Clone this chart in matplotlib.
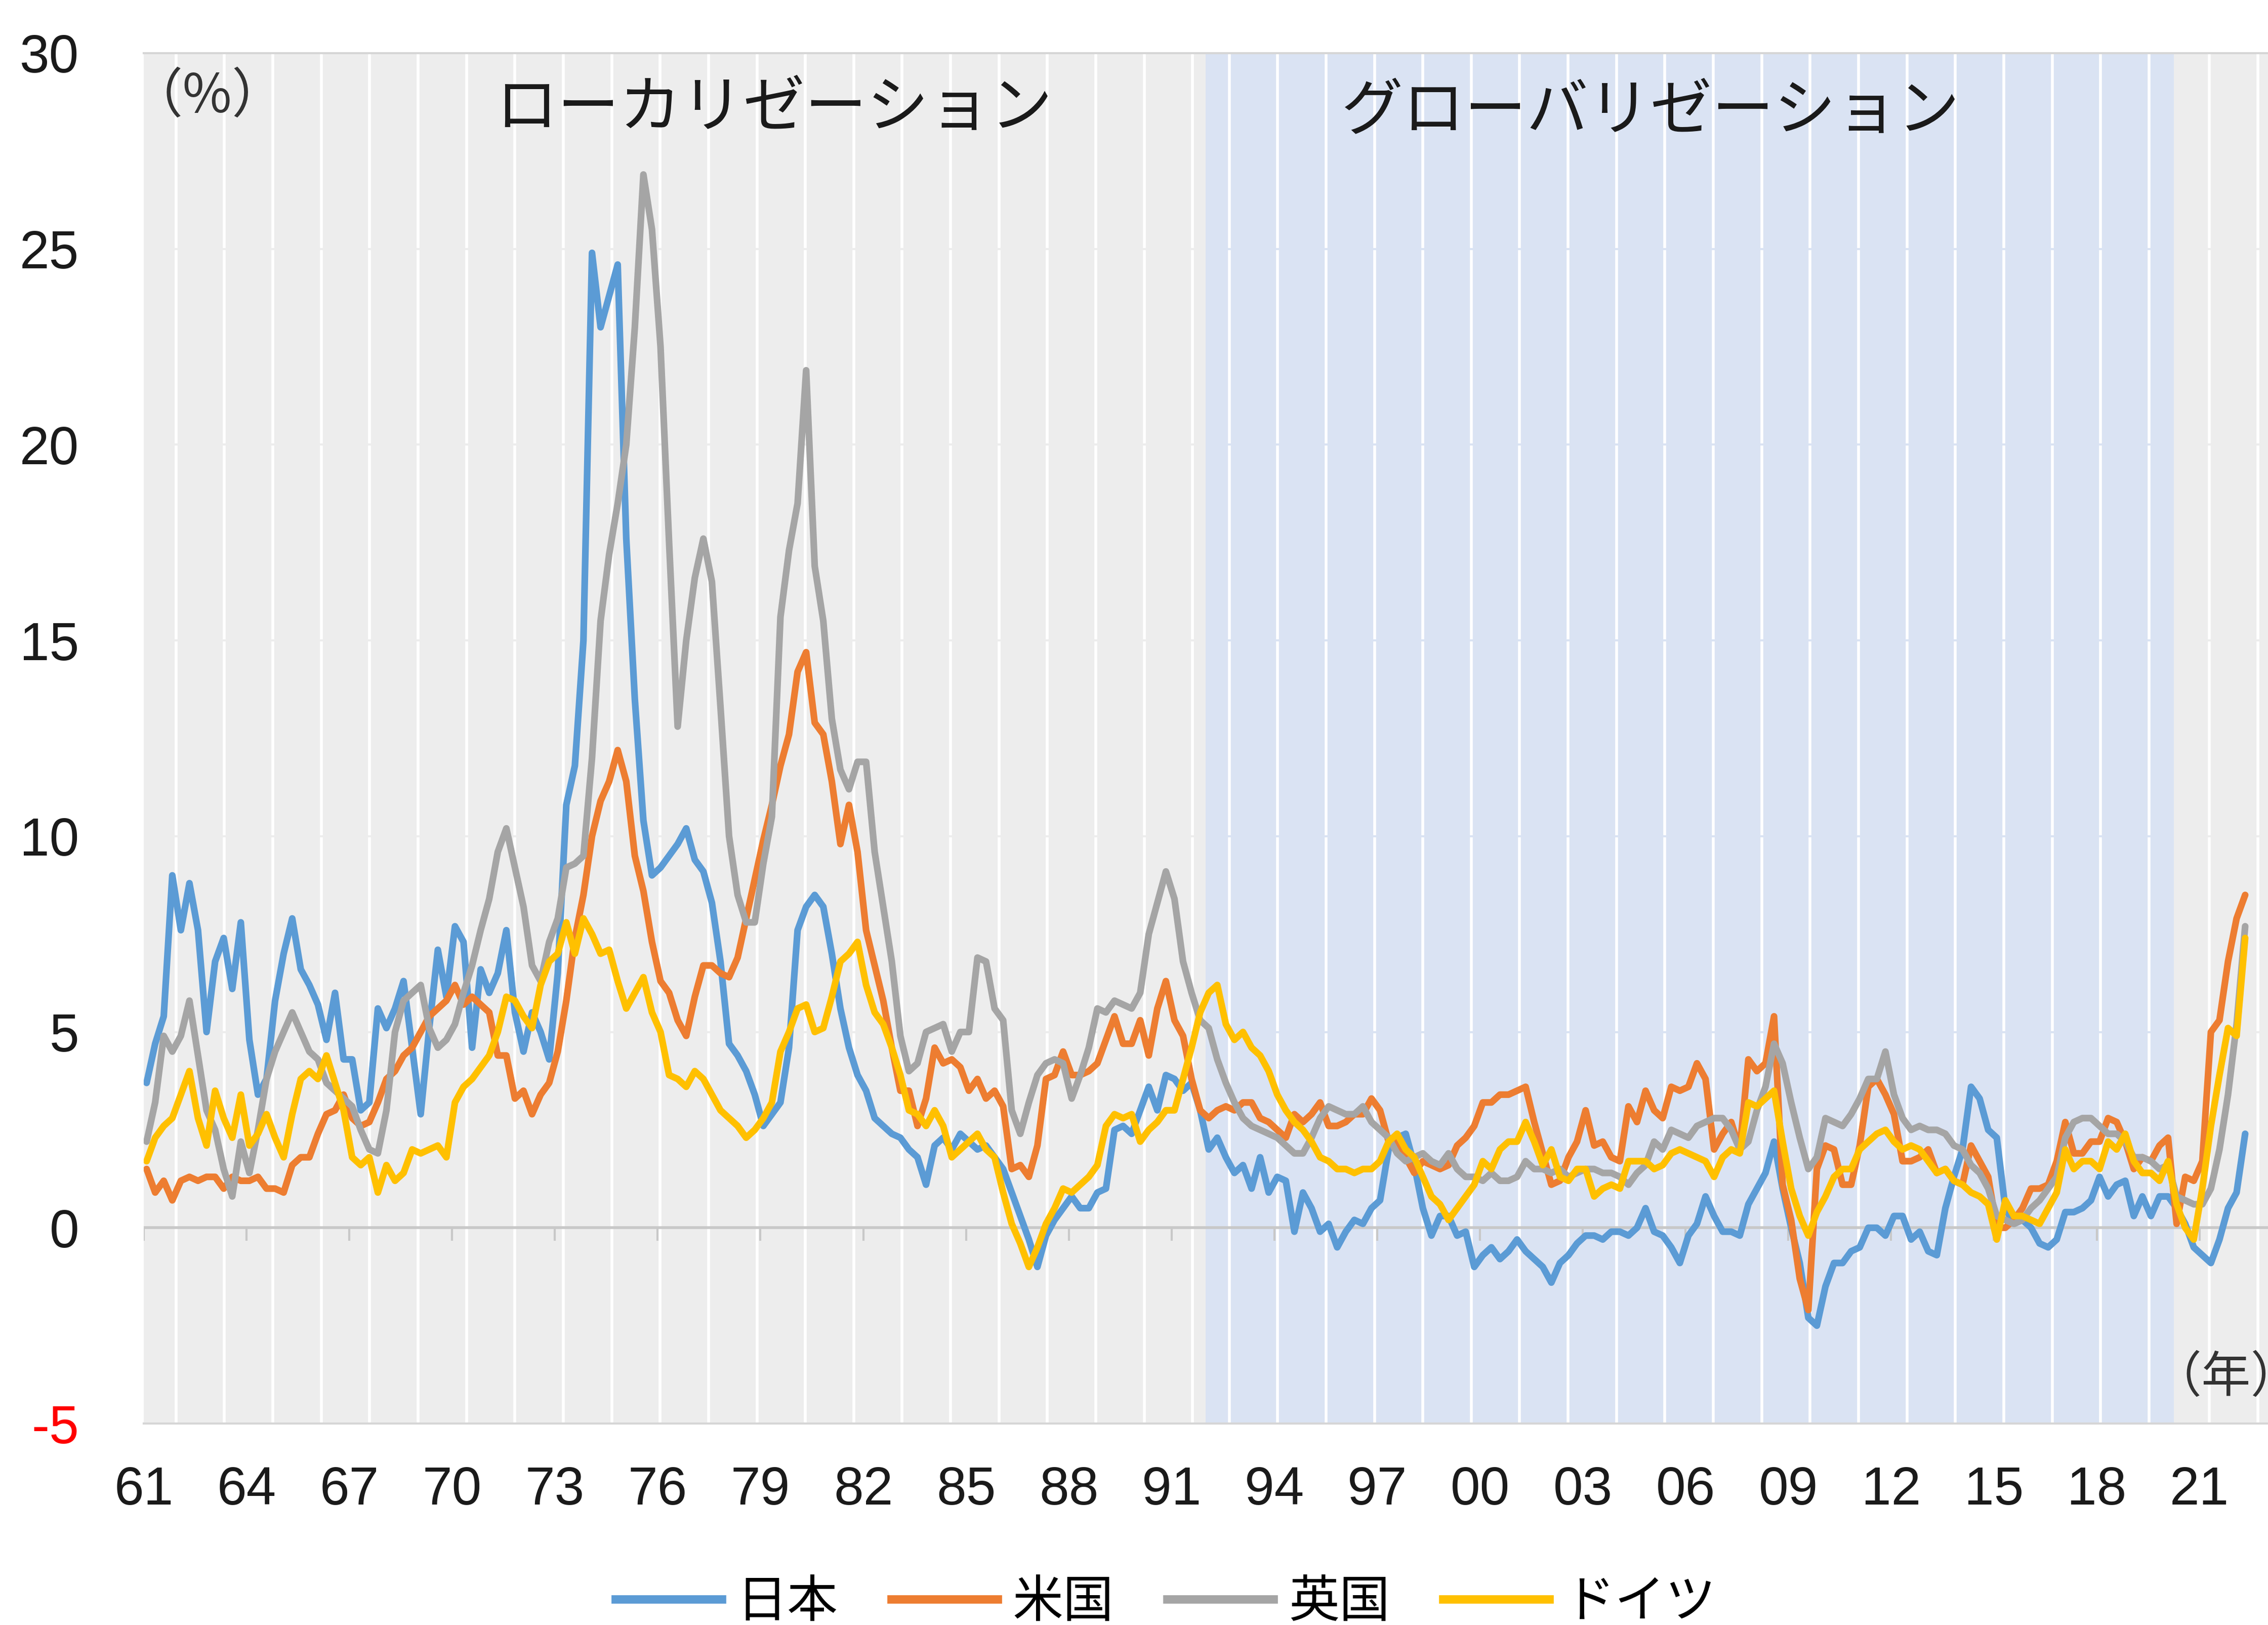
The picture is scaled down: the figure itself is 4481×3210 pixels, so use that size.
import numpy as np
import pandas as pd
import matplotlib
matplotlib.use("Agg")
import matplotlib.pyplot as plt
from matplotlib.lines import Line2D

# ---------------- data (quarterly readings, Feb/May/Aug/Nov, 1961 - 2022) ----------------
series_names = ["日本", "米国", "英国", "ドイツ"]

japan = [
    3.7, 4.7, 5.4, 9.0,   7.6, 8.8, 7.6, 5.0,   6.8, 7.4, 6.1, 7.8,   4.8, 3.4, 3.8, 5.8,   # 61-64
    7.0, 7.9, 6.6, 6.2,   5.7, 4.8, 6.0, 4.3,   4.3, 3.0, 3.2, 5.6,   5.1, 5.6, 6.3, 4.6,   # 65-68
    2.9, 5.1, 7.1, 5.9,   7.7, 7.3, 4.6, 6.6,   6.0, 6.5, 7.6, 5.5,   4.5, 5.5, 5.0, 4.3,   # 69-72
    6.5, 10.8, 11.8, 15.0, 24.9, 23.0, 23.8, 24.6, 17.6, 13.5, 10.4, 9.0, 9.2, 9.5, 9.8, 10.2,  # 73-76
    9.4, 9.1, 8.3, 6.8,   4.7, 4.4, 4.0, 3.4,   2.6, 2.9, 3.2, 4.6,   7.6, 8.2, 8.5, 8.2,   # 77-80
    7.0, 5.6, 4.6, 3.9,   3.5, 2.8, 2.6, 2.4,   2.3, 2.0, 1.8, 1.1,   2.1, 2.3, 2.0, 2.4,   # 81-84
    2.2, 2.0, 2.1, 1.8,   1.5, 0.9, 0.3, -0.3,  -1.0, -0.2, 0.2, 0.5,  0.8, 0.5, 0.5, 0.9,  # 85-88
    1.0, 2.5, 2.6, 2.4,   3.0, 3.6, 3.0, 3.9,   3.8, 3.5, 3.7, 3.0,   2.0, 2.3, 1.8, 1.4,   # 89-92
    1.6, 1.0, 1.8, 0.9,   1.3, 1.2, -0.1, 0.9,  0.5, -0.1, 0.1, -0.5,  -0.1, 0.2, 0.1, 0.5,  # 93-96
    0.7, 2.0, 2.3, 2.4,   1.6, 0.5, -0.2, 0.3,  0.3, -0.2, -0.1, -1.0, -0.7, -0.5, -0.8, -0.6,  # 97-00
    -0.3, -0.6, -0.8, -1.0, -1.4, -0.9, -0.7, -0.4, -0.2, -0.2, -0.3, -0.1, -0.1, -0.2, 0.0, 0.5,  # 01-04
    -0.1, -0.2, -0.5, -0.9, -0.2, 0.1, 0.8, 0.3, -0.1, -0.1, -0.2, 0.6,  1.0, 1.4, 2.2, 1.0,  # 05-08
    0.0, -0.9, -2.3, -2.5, -1.5, -0.9, -0.9, -0.6, -0.5, 0.0, 0.0, -0.2,  0.3, 0.3, -0.3, -0.1,  # 09-12
    -0.6, -0.7, 0.5, 1.3,  2.0, 3.6, 3.3, 2.5,   2.3, 0.5, 0.1, 0.2,   0.0, -0.4, -0.5, -0.3,  # 13-16
    0.4, 0.4, 0.5, 0.7,   1.3, 0.8, 1.1, 1.2,   0.3, 0.8, 0.3, 0.8,   0.8, 0.5, 0.1, -0.5,  # 17-20
    -0.7, -0.9, -0.3, 0.5, 0.9, 2.4,                                                           # 21-22
]

us = [
    1.5, 0.9, 1.2, 0.7,   1.2, 1.3, 1.2, 1.3,   1.3, 1.0, 1.3, 1.2,   1.2, 1.3, 1.0, 1.0,
    0.9, 1.6, 1.8, 1.8,   2.4, 2.9, 3.0, 3.4,   2.8, 2.6, 2.7, 3.2,   3.8, 4.0, 4.4, 4.6,
    5.0, 5.4, 5.6, 5.8,   6.2, 5.7, 5.9, 5.7,   5.5, 4.4, 4.4, 3.3,   3.5, 2.9, 3.4, 3.7,
    4.5, 5.8, 7.4, 8.5,   10.0, 10.9, 11.4, 12.2, 11.4, 9.5, 8.6, 7.3,  6.3, 6.0, 5.3, 4.9,
    5.9, 6.7, 6.7, 6.5,   6.4, 6.9, 7.9, 8.9,   9.9, 10.8, 11.8, 12.6, 14.2, 14.7, 12.9, 12.6,
    11.4, 9.8, 10.8, 9.6, 7.6, 6.7, 5.8, 4.6,   3.5, 3.5, 2.6, 3.3,   4.6, 4.2, 4.3, 4.1,
    3.5, 3.8, 3.3, 3.5,   3.1, 1.5, 1.6, 1.3,   2.1, 3.8, 3.9, 4.5,   3.9, 3.9, 4.0, 4.2,
    4.8, 5.4, 4.7, 4.7,   5.3, 4.4, 5.6, 6.3,   5.3, 4.9, 3.8, 3.0,   2.8, 3.0, 3.1, 3.0,
    3.2, 3.2, 2.8, 2.7,   2.5, 2.3, 2.9, 2.7,   2.9, 3.2, 2.6, 2.6,   2.7, 2.9, 2.9, 3.3,
    3.0, 2.2, 2.2, 1.8,   1.4, 1.7, 1.6, 1.5,   1.6, 2.1, 2.3, 2.6,   3.2, 3.2, 3.4, 3.4,
    3.5, 3.6, 2.7, 1.9,   1.1, 1.2, 1.8, 2.2,   3.0, 2.1, 2.2, 1.8,   1.7, 3.1, 2.7, 3.5,
    3.0, 2.8, 3.6, 3.5,   3.6, 4.2, 3.8, 2.0,   2.4, 2.7, 2.0, 4.3,   4.0, 4.2, 5.4, 1.1,
    0.2, -1.3, -2.1, 1.5, 2.1, 2.0, 1.1, 1.1,   2.1, 3.6, 3.8, 3.4,   2.9, 1.7, 1.7, 1.8,
    2.0, 1.4, 1.5, 1.2,   1.1, 2.1, 1.7, 1.3,   0.0, 0.0, 0.2, 0.5,   1.0, 1.0, 1.1, 1.7,
    2.7, 1.9, 1.9, 2.2,   2.2, 2.8, 2.7, 2.2,   1.5, 1.8, 1.7, 2.1,   2.3, 0.1, 1.3, 1.2,
    1.7, 5.0, 5.3, 6.8,   7.9, 8.5,
]

uk = [
    2.2, 3.2, 4.9, 4.5,   4.9, 5.8, 4.4, 3.0,   2.5, 1.5, 0.8, 2.2,   1.4, 2.5, 3.8, 4.5,
    5.0, 5.5, 5.0, 4.5,   4.3, 3.7, 3.5, 3.3,   3.1, 2.5, 2.0, 1.9,   3.0, 5.0, 5.8, 6.0,
    6.2, 5.1, 4.6, 4.8,   5.2, 6.0, 6.7, 7.6,   8.4, 9.6, 10.2, 9.2,  8.2, 6.7, 6.3, 7.3,
    7.9, 9.2, 9.3, 9.5,   12.0, 15.5, 17.2, 18.5, 20.0, 23.0, 26.9, 25.5, 22.5, 17.5, 12.8, 15.0,
    16.6, 17.6, 16.5, 13.3, 10.0, 8.5, 7.8, 7.8, 9.3, 10.5, 15.6, 17.3, 18.5, 21.9, 16.9, 15.5,
    13.0, 11.7, 11.2, 11.9, 11.9, 9.6, 8.2, 6.8, 4.9, 4.0, 4.2, 5.0,   5.1, 5.2, 4.5, 5.0,
    5.0, 6.9, 6.8, 5.6,   5.3, 3.0, 2.4, 3.2,   3.9, 4.2, 4.3, 4.2,   3.3, 3.9, 4.6, 5.6,
    5.5, 5.8, 5.7, 5.6,   6.0, 7.5, 8.3, 9.1,   8.4, 6.8, 6.0, 5.3,   5.1, 4.3, 3.7, 3.2,
    2.8, 2.6, 2.5, 2.4,   2.3, 2.1, 1.9, 1.9,   2.3, 2.8, 3.1, 3.0,   2.9, 2.9, 3.1, 2.7,
    2.5, 2.3, 1.9, 1.7,   1.8, 1.9, 1.7, 1.6,   1.9, 1.5, 1.3, 1.3,   1.2, 1.4, 1.2, 1.2,
    1.3, 1.7, 1.5, 1.5,   1.4, 1.5, 1.3, 1.4,   1.5, 1.5, 1.4, 1.4,   1.3, 1.1, 1.4, 1.6,
    2.2, 2.0, 2.5, 2.4,   2.3, 2.6, 2.7, 2.8,   2.8, 2.5, 2.0, 2.2,   3.0, 3.6, 4.7, 4.2,
    3.2, 2.3, 1.5, 1.8,   2.8, 2.7, 2.6, 2.9,   3.3, 3.8, 3.8, 4.5,   3.4, 2.8, 2.5, 2.6,
    2.5, 2.5, 2.4, 2.1,   2.0, 1.6, 1.4, 1.0,   0.3, 0.2, 0.1, 0.2,   0.5, 0.7, 1.0, 1.3,
    2.3, 2.7, 2.8, 2.8,   2.6, 2.4, 2.4, 2.2,   1.8, 1.8, 1.7, 1.5,   1.6, 0.8, 0.7, 0.6,
    0.6, 1.0, 2.0, 3.4,   5.2, 7.7,
]

germany = [
    1.7, 2.3, 2.6, 2.8,   3.4, 4.0, 2.8, 2.1,   3.5, 2.8, 2.3, 3.4,   2.1, 2.4, 2.9, 2.3,
    1.8, 2.9, 3.8, 4.0,   3.8, 4.4, 3.7, 3.0,   1.8, 1.6, 1.8, 0.9,   1.6, 1.2, 1.4, 2.0,
    1.9, 2.0, 2.1, 1.8,   3.2, 3.6, 3.8, 4.1,   4.4, 5.0, 5.9, 5.8,   5.4, 5.1, 6.2, 6.8,
    7.0, 7.8, 7.0, 7.9,   7.5, 7.0, 7.1, 6.3,   5.6, 6.0, 6.4, 5.5,   5.0, 3.9, 3.8, 3.6,
    4.0, 3.8, 3.4, 3.0,   2.8, 2.6, 2.3, 2.5,   2.8, 3.2, 4.5, 5.0,   5.6, 5.7, 5.0, 5.1,
    5.9, 6.8, 7.0, 7.3,   6.2, 5.5, 5.2, 4.6,   3.9, 3.0, 2.9, 2.6,   3.0, 2.6, 1.8, 2.0,
    2.2, 2.4, 2.0, 1.8,   0.9, 0.1, -0.4, -1.0, -0.5, 0.1, 0.5, 1.0,  0.9, 1.1, 1.3, 1.6,
    2.6, 2.9, 2.8, 2.9,   2.2, 2.5, 2.7, 3.0,   3.0, 3.8, 4.6, 5.5,   6.0, 6.2, 5.2, 4.8,
    5.0, 4.6, 4.4, 4.0,   3.4, 3.0, 2.7, 2.5,   2.2, 1.8, 1.7, 1.5,   1.5, 1.4, 1.5, 1.5,
    1.7, 2.2, 2.4, 2.0,   1.8, 1.3, 0.8, 0.6,   0.2, 0.5, 0.8, 1.1,   1.7, 1.5, 2.0, 2.2,
    2.2, 2.7, 2.2, 1.6,   2.0, 1.3, 1.2, 1.5,   1.5, 0.8, 1.0, 1.1,   1.0, 1.7, 1.7, 1.7,
    1.5, 1.6, 1.9, 2.0,   1.9, 1.8, 1.7, 1.3,   1.8, 2.0, 1.9, 3.2,   3.1, 3.3, 3.5, 2.2,
    1.0, 0.3, -0.2, 0.4,  0.8, 1.3, 1.5, 1.5,   2.0, 2.2, 2.4, 2.5,   2.2, 2.0, 2.1, 2.0,
    1.7, 1.4, 1.5, 1.2,   1.1, 0.9, 0.8, 0.6,   -0.3, 0.7, 0.3, 0.3,  0.2, 0.1, 0.5, 0.9,
    2.0, 1.5, 1.7, 1.7,   1.5, 2.2, 2.0, 2.4,   1.7, 1.4, 1.4, 1.2,   1.7, 0.6, 0.0, -0.3,
    1.0, 2.6, 3.9, 5.1,   4.9, 7.4,
]

tick_years = list(range(1961, 2022, 3))
tick_labels = [f"{y % 100:02d}" for y in tick_years]
y_ticks = [-5, 0, 5, 10, 15, 20, 25, 30]
period_labels = ["ローカリゼーション", "グローバリゼーション"]
globalization_span = (1992.0, 2020.25)

# ---------------- styling ----------------
colors = ["#5B9BD5", "#ED7D31", "#A5A5A5", "#FFC000"]
GRAY_BG = "#EDEDED"
BLUE_BG = "#DAE3F3"
JP = ["Noto Sans CJK JP", "DejaVu Sans"]
NUM = ["Liberation Sans Narrow", "Liberation Sans", "DejaVu Sans"]

W, H = 4481, 3210
fig = plt.figure(figsize=(W / 100, H / 100), dpi=100)
ax = fig.add_axes([284 / W, (H - 2812) / H, 1 - 284 / W, (2812 - 105) / H])
ax.set_xlim(1961.0, 2023.0)
ax.set_ylim(-5, 30)
ax.set_facecolor(GRAY_BG)

# time axis for quarterly readings
n = len(japan)
dates = pd.date_range("1961-02-01", periods=n, freq="3MS")
t = dates.year + (dates.month - 1) / 12.0

# background bands
ax.axvspan(*globalization_span, color=BLUE_BG, lw=0, zorder=0.5)
step = 1.4131
g = 1961.94 + step * np.arange(0, 46)
g = g[((g < globalization_span[0]) | (g > globalization_span[1])) & (g < 2023)]
b = 1992.68 + step * np.arange(0, 21)
b = b[b < globalization_span[1]]
ax.vlines(np.concatenate([g, b]), -5, 30, colors="white", lw=4.0, zorder=1)
for yv in [5, 10, 15, 20, 25]:
    ax.hlines(yv, 1961, globalization_span[0], colors=GRAY_BG, lw=3, zorder=1.2)
    ax.hlines(yv, globalization_span[0], globalization_span[1], colors=BLUE_BG, lw=3, zorder=1.2)
    ax.hlines(yv, globalization_span[1], 2023, colors=GRAY_BG, lw=3, zorder=1.2)

# zero axis line with tick marks
ax.axhline(0, color="#C8C8C8", lw=4, zorder=2)
ax.vlines(tick_years, -0.33, 0, colors="#C8C8C8", lw=3, zorder=2)

# series
for vals, c, name in zip([japan, us, uk, germany], colors, series_names):
    assert len(vals) == n
    ax.plot(t, vals, color=c, lw=9.5, solid_joinstyle="round", solid_capstyle="round",
            zorder=3, label=name)

# spines
for s in ["left", "right"]:
    ax.spines[s].set_visible(False)
for s in ["top", "bottom"]:
    ax.spines[s].set_color("#D6D6D6")
    ax.spines[s].set_linewidth(3)

# ticks
ax.set_xticks(tick_years)
ax.set_xticklabels(tick_labels, family=NUM, fontsize=76, color="#1A1A1A")
ax.set_yticks(y_ticks)
ax.set_yticklabels([str(v) for v in y_ticks], family=NUM, fontsize=76)
for lab, v in zip(ax.get_yticklabels(), y_ticks):
    lab.set_color("#FF0000" if v < 0 else "#1A1A1A")
ax.tick_params(axis="x", length=0, pad=60)
ax.tick_params(axis="y", length=0, pad=92)
ax.grid(False)

# annotations
fig.text(1529 / W, 1 - 216 / H, period_labels[0], family=JP, fontsize=88,
         ha="center", va="center", color="#1A1A1A")
fig.text(3261 / W, 1 - 222 / H, period_labels[1], family=JP, fontsize=88,
         ha="center", va="center", color="#1A1A1A")
fig.text(410 / W, 1 - 192 / H, "（%）", family=JP, fontsize=76,
         ha="center", va="center", color="#333333")
fig.text(4252 / W, 1 - 2722 / H, "（年）", family=JP, fontsize=70,
         ha="left", va="center", color="#333333")

# legend
handles = [Line2D([0], [0], color=c, lw=12) for c in colors]
leg = fig.legend(handles, series_names, loc="center", bbox_to_anchor=(0.514, 0.014),
                 ncol=4, frameon=False, prop={"family": JP, "size": 72},
                 handlelength=2.1, handletextpad=0.3, columnspacing=1.05)

fig.savefig("out.png", dpi=100)
